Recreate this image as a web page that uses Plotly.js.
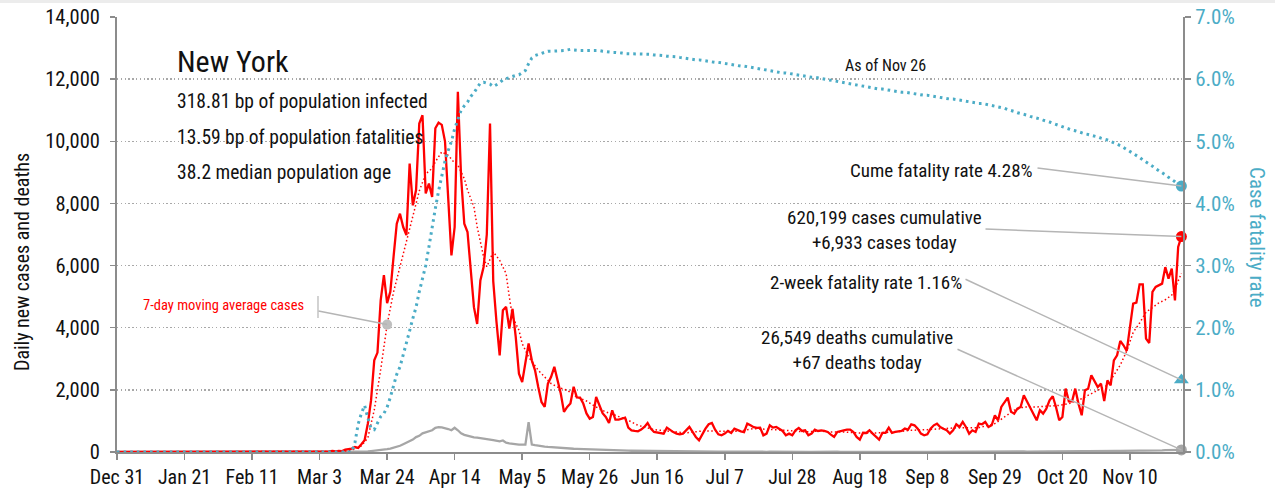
<!DOCTYPE html>
<html>
<head>
<meta charset="utf-8">
<script src="https://cdn.plot.ly/plotly-3.0.1.min.js"></script>
<style>
  html, body { margin: 0; padding: 0; background: #ffffff; }
  #chart { width: 1275px; height: 493px; }
</style>
</head>
<body>
<div id="chart"></div>
<script>
// ---------------- DATA ----------------
const stateName = "New York";
const infectedBp = "318.81";
const fatalitiesBp = "13.59";
const medianAge = "38.2";
const asOfLabel = "As of Nov 26";
const cumCases = "620,199";
const cumDeaths = "26,549";
const cumeFatalityRate = 4.28;
const twoWeekFatalityRate = 1.16;

const preStart = "2019-12-31";      // series are zero from here
const dailyStart = "2020-03-01";    // first day of the daily arrays below

// daily new cases, Mar 1 .. Nov 26
const dailyCases = [
  1, 0, 1, 9, 11, 22, 32, 16, 37, 31,
  77, 90, 110, 160, 130, 250, 380, 910, 1660, 2950,
  3200, 4880, 5690, 4790, 5160, 6280, 7350, 7670, 7240, 6980,
  9280, 7940, 8430, 10570, 10840, 8320, 8640, 8210, 10420, 10600,
  10530, 10000, 8210, 6330, 7240, 11590, 8860, 7350, 7080, 5950,
  4660, 4120, 5520, 5950, 7000, 10570, 5500, 4200, 3110, 4560,
  4670, 3970, 4610, 3700, 2520, 2250, 2840, 3490, 2950, 2630,
  2090, 1610, 1450, 2200, 2420, 2740, 2310, 1880, 1290, 1450,
  1560, 2100, 1760, 1750, 1560, 1240, 1074, 1128, 1771, 1500,
  1250, 1130, 934, 1342, 1042, 1042, 1070, 1106, 784, 698,
  680, 666, 720, 806, 934, 752, 645, 623, 600, 591,
  784, 698, 640, 591, 570, 591, 698, 806, 645, 484,
  376, 591, 752, 892, 934, 720, 570, 537, 591, 677,
  613, 752, 698, 666, 640, 913, 859, 800, 774, 784,
  537, 591, 859, 784, 806, 752, 677, 537, 591, 537,
  698, 774, 677, 698, 537, 591, 720, 677, 698, 677,
  645, 560, 484, 645, 680, 698, 720, 720, 645, 484,
  398, 620, 613, 698, 591, 500, 398, 613, 613, 784,
  613, 645, 666, 677, 752, 720, 892, 859, 752, 591,
  537, 570, 752, 859, 913, 806, 750, 698, 591, 700,
  892, 806, 967, 806, 591, 698, 645, 913, 892, 967,
  806, 859, 1181, 1020, 1450, 1610, 1750, 1300, 1235, 1396,
  1450, 1825, 1610, 1450, 1235, 1020, 1342, 1235, 1396, 1664,
  1793, 1450, 1020, 1127, 2039, 1632, 1632, 2039, 1556, 1181,
  1986, 2039, 2468, 2254, 2093, 2200, 1642, 2307, 2147, 2951,
  3112, 3573, 3434, 3252, 3970, 4775, 4807, 5397, 5397, 3649,
  3509, 5151, 5312, 5365, 5419, 5950, 5580, 5900, 4880, 6600, 6933
];

// daily new deaths, Mar 1 .. Nov 26
const dailyDeaths = [
  0, 0, 0, 0, 0, 0, 0, 0, 0, 0,
  0, 0, 0, 2, 3, 7, 10, 20, 30, 40,
  45, 60, 60, 90, 110, 140, 160, 200, 250, 300,
  330, 400, 480, 520, 600, 640, 680, 700, 780, 800,
  790, 770, 740, 700, 780, 700, 600, 550, 520, 500,
  470, 460, 450, 430, 420, 400, 380, 360, 340, 370,
  300, 280, 260, 250, 240, 235, 240, 960, 240, 220,
  200, 185, 175, 165, 155, 145, 140, 130, 120, 115,
  110, 105, 100, 95, 90, 85, 80, 78, 75, 70,
  65, 60, 58, 55, 52, 50, 48, 45, 42, 40,
  38, 35, 33, 30, 30, 28, 26, 25, 24, 22,
  22, 20, 18, 20, 17, 15, 16, 14, 15, 13,
  12, 14, 11, 12, 10, 11, 9, 12, 10, 9,
  10, 8, 11, 9, 10, 8, 9, 7, 10, 8,
  9, 7, 8, 10, 6, 8, 7, 9, 6, 8,
  7, 8, 6, 9, 7, 5, 8, 6, 7, 8,
  6, 7, 5, 8, 6, 7, 5, 6, 8, 5,
  6, 5, 7, 6, 5, 7, 6, 5, 6, 7,
  5, 6, 7, 5, 6, 8, 6, 7, 5, 6,
  7, 6, 8, 6, 9, 7, 8, 6, 9, 8,
  10, 8, 11, 9, 10, 12, 9, 11, 13, 10,
  12, 11, 14, 12, 15, 13, 16, 14, 15, 17,
  16, 18, 15, 19, 17, 20, 18, 21, 19, 22,
  20, 23, 21, 25, 22, 26, 24, 28, 25, 27,
  29, 27, 31, 28, 33, 30, 35, 32, 36, 34,
  38, 35, 40, 37, 42, 45, 41, 47, 44, 50,
  48, 53, 50, 56, 55, 60, 58, 62, 59, 64, 67
];

// cumulative case fatality rate (%), Mar 1 .. Nov 26
const caseFatalityRate = [
  0, 0, 0, 0, 0, 0, 0, 0, 0, 0,
  0, 0, 0, 0.15, 0.45, 0.62, 0.75, 0.55, 0.38, 0.36,
  0.48, 0.57, 0.62, 0.72, 0.88, 1.05, 1.25, 1.37, 1.55, 1.76,
  1.95, 2.15, 2.33, 2.58, 2.80, 3.00, 3.30, 3.63, 3.92, 4.20,
  4.45, 4.68, 4.85, 5.00, 5.20, 5.37, 5.50, 5.57, 5.63, 5.72,
  5.78, 5.86, 5.94, 5.95, 5.94, 5.92, 5.88, 5.91, 5.94, 5.99,
  6.01, 6.03, 6.04, 6.06, 6.07, 6.10, 6.14, 6.25, 6.34, 6.38,
  6.40, 6.42, 6.44, 6.45, 6.45, 6.45, 6.45, 6.46, 6.46, 6.47,
  6.48, 6.47, 6.46, 6.46, 6.46, 6.46, 6.47, 6.47, 6.46, 6.46,
  6.45, 6.44, 6.43, 6.43, 6.43, 6.43, 6.42, 6.41, 6.41, 6.41,
  6.41, 6.41, 6.41, 6.40, 6.40, 6.40, 6.39, 6.39, 6.38, 6.38,
  6.37, 6.37, 6.36, 6.36, 6.35, 6.34, 6.33, 6.33, 6.32, 6.31,
  6.31, 6.30, 6.29, 6.29, 6.28, 6.27, 6.27, 6.26, 6.25, 6.25,
  6.24, 6.23, 6.22, 6.21, 6.21, 6.20, 6.19, 6.18, 6.17, 6.16,
  6.15, 6.15, 6.14, 6.13, 6.12, 6.11, 6.10, 6.10, 6.09, 6.08,
  6.07, 6.06, 6.06, 6.05, 6.04, 6.03, 6.03, 6.02, 6.01, 6.01,
  6.00, 5.99, 5.98, 5.97, 5.96, 5.95, 5.94, 5.93, 5.92, 5.91,
  5.90, 5.89, 5.88, 5.87, 5.86, 5.85, 5.84, 5.84, 5.83, 5.82,
  5.81, 5.80, 5.80, 5.79, 5.79, 5.78, 5.77, 5.76, 5.76, 5.75,
  5.74, 5.74, 5.73, 5.72, 5.72, 5.71, 5.70, 5.69, 5.68, 5.68,
  5.67, 5.66, 5.65, 5.64, 5.64, 5.63, 5.62, 5.61, 5.61, 5.60,
  5.59, 5.58, 5.57, 5.56, 5.54, 5.53, 5.51, 5.50, 5.48, 5.46,
  5.45, 5.43, 5.42, 5.40, 5.39, 5.37, 5.36, 5.34, 5.33, 5.31,
  5.29, 5.27, 5.25, 5.23, 5.21, 5.20, 5.18, 5.17, 5.15, 5.14,
  5.12, 5.11, 5.10, 5.08, 5.07, 5.05, 5.04, 5.02, 5.00, 4.98,
  4.96, 4.93, 4.90, 4.87, 4.83, 4.80, 4.77, 4.74, 4.70, 4.67,
  4.63, 4.60, 4.56, 4.53, 4.49, 4.46, 4.42, 4.39, 4.35, 4.31, 4.28
];

// 7-day moving average of cases
const maDates = [
  "2020-03-01","2020-03-10","2020-03-14","2020-03-16","2020-03-18","2020-03-20","2020-03-22","2020-03-24","2020-03-26","2020-03-28",
  "2020-03-30","2020-04-01","2020-04-03","2020-04-05","2020-04-07","2020-04-08","2020-04-10","2020-04-12","2020-04-14","2020-04-15",
  "2020-04-17","2020-04-18","2020-04-20","2020-04-21","2020-04-23","2020-04-24","2020-04-26","2020-04-28","2020-04-30","2020-05-01",
  "2020-05-02","2020-05-04","2020-05-05","2020-05-07","2020-05-10","2020-05-12","2020-05-14","2020-05-16","2020-05-19","2020-05-22",
  "2020-05-25","2020-05-28","2020-05-30","2020-05-31","2020-06-03","2020-06-05","2020-06-07","2020-06-10","2020-06-15","2020-06-20",
  "2020-06-25","2020-06-30","2020-07-06","2020-07-11","2020-07-16","2020-07-21","2020-07-26","2020-08-01","2020-08-06","2020-08-08",
  "2020-08-13","2020-08-18","2020-08-23","2020-08-29","2020-09-03","2020-09-08","2020-09-13","2020-09-18","2020-09-24","2020-09-27",
  "2020-09-29","2020-10-02","2020-10-05","2020-10-08","2020-10-12","2020-10-16","2020-10-19","2020-10-22","2020-10-26","2020-10-30",
  "2020-11-03","2020-11-07","2020-11-09","2020-11-11","2020-11-13","2020-11-15","2020-11-17","2020-11-19","2020-11-21","2020-11-23",
  "2020-11-25","2020-11-26"
];
const maCases = [
  0, 20, 90, 200, 450, 1350, 2650, 4100, 5150, 5960,
  6700, 7500, 8400, 8950, 9130, 9340, 9660, 9550, 9300, 9230,
  8800, 8430, 7890, 7250, 6280, 5960, 6440, 6170, 5740, 4990,
  4350, 3920, 3490, 3060, 2630, 2415, 2200, 2090, 1986, 1771,
  1640, 1449, 1342, 1288, 1181, 1100, 1020, 859, 720, 666,
  613, 677, 677, 666, 752, 730, 698, 645, 677, 645,
  645, 613, 613, 645, 698, 720, 752, 784, 784, 859,
  913, 1128, 1342, 1450, 1450, 1480, 1500, 1556, 1717, 1932,
  2147, 2800, 3250, 3850, 4150, 4500, 4650, 4800, 4900, 5050,
  5500, 5750
];
const maLabelDate = "2020-03-24";

const xTickStart = "2019-12-31";
const xRangeEnd = "2020-11-26 12:00";

// ---------------- HELPERS ----------------
function dailyDates(start, n) {
  const out = [];
  const t0 = Date.parse(start + "T00:00:00Z");
  for (let i = 0; i < n; i++) {
    out.push(new Date(t0 + i * 86400000).toISOString().slice(0, 10));
  }
  return out;
}
const dates = dailyDates(dailyStart, dailyCases.length);
const lastDate = dates[dates.length - 1];
const lastCases = dailyCases[dailyCases.length - 1];
const lastDeaths = dailyDeaths[dailyDeaths.length - 1];
const lastCfr = caseFatalityRate[caseFatalityRate.length - 1];
const maAtLabel = maCases[maDates.indexOf(maLabelDate)];
const fmt = v => v.toLocaleString("en-US");

// ---------------- STYLE / GEOMETRY ----------------
const FONT = "'Liberation Sans Narrow', 'Roboto Condensed', 'Arial Narrow', 'Liberation Sans', sans-serif";
const RED = "#ff0000";
const BLUE = "#4bacc6";
const GRAY = "#a6a6a6";
const AXIS = "#8c8c8c";
const LEADER = "#b5b5b5";

const W = 1275, H = 493, ML = 117, MR = 92, MT = 17, MB = 41;
const PW = W - ML - MR, PH = H - MT - MB;
const px2x = px => (px - ML) / PW;
const py2y = py => (H - MB - py) / PH;
const Y_MAX = 14000, Y2_MAX = 7;

// pixel position of a data point (used only to aim leader lines)
const T0 = Date.parse(xTickStart + "T00:00:00Z");
const T1 = Date.parse(xRangeEnd.replace(" ", "T") + ":00Z");
const xPix = d => ML + PW * (Date.parse(d + "T00:00:00Z") - T0) / (T1 - T0);
const yPix = v => MT + PH * (1 - v / Y_MAX);
const y2Pix = v => MT + PH * (1 - v / Y2_MAX);

const traces = [
  {
    x: [preStart].concat(dates), y: [0].concat(dailyDeaths),
    type: "scatter", mode: "lines",
    line: { color: GRAY, width: 2.3 }, hoverinfo: "skip"
  },
  {
    x: [preStart].concat(dates), y: [0].concat(dailyCases),
    type: "scatter", mode: "lines",
    line: { color: RED, width: 2.3 }, hoverinfo: "skip"
  },
  {
    x: [preStart].concat(maDates), y: [0].concat(maCases),
    type: "scatter", mode: "lines",
    line: { color: RED, width: 1.5, dash: "1.5px,2.5px" }, hoverinfo: "skip"
  },
  {
    x: [preStart].concat(dates), y: [0].concat(caseFatalityRate),
    type: "scatter", mode: "lines", yaxis: "y2",
    line: { color: BLUE, width: 3, dash: "2.6px,4px" }, hoverinfo: "skip"
  },
  // end-point markers
  {
    x: [maLabelDate], y: [maAtLabel], type: "scatter", mode: "markers",
    marker: { color: "#bfbfbf", size: 10 }, cliponaxis: false, hoverinfo: "skip"
  },
  {
    x: [lastDate], y: [lastDeaths], type: "scatter", mode: "markers",
    marker: { color: GRAY, size: 11 }, cliponaxis: false, hoverinfo: "skip"
  },
  {
    x: [lastDate], y: [lastCases], type: "scatter", mode: "markers",
    marker: { color: RED, size: 11 }, cliponaxis: false, hoverinfo: "skip"
  },
  {
    x: [lastDate], y: [lastCfr], yaxis: "y2", type: "scatter", mode: "markers",
    marker: { color: BLUE, size: 11 }, cliponaxis: false, hoverinfo: "skip"
  },
  {
    x: [lastDate], y: [twoWeekFatalityRate], yaxis: "y2", type: "scatter", mode: "markers",
    marker: { color: BLUE, size: 13, symbol: "triangle-up" }, cliponaxis: false, hoverinfo: "skip"
  }
];

const txt = (text, px, py, size, color, xanchor) => ({
  text: text, xref: "paper", yref: "paper", x: px2x(px), y: py2y(py),
  xanchor: xanchor || "left", yanchor: "middle", showarrow: false, align: "center",
  font: { family: FONT, size: size, color: color || "#111111" }
});

// leader line from a pixel start point to a data point
const leader = (xd, yd, yref, startPx, startPy) => {
  const ex = xPix(xd), ey = (yref === "y2" ? y2Pix(yd) : yPix(yd));
  return {
    x: xd, y: yd, xref: "x", yref: yref,
    ax: startPx - ex, ay: startPy - ey, axref: "pixel", ayref: "pixel",
    text: " ", showarrow: true, arrowhead: 0, arrowwidth: 1.5, arrowcolor: LEADER,
    standoff: 0, startstandoff: 0, borderpad: 0,
    font: { family: FONT, size: 1, color: "rgba(0,0,0,0)" }
  };
};

const annotations = [
  txt(stateName, 175, 61, 30),
  txt(infectedBp + " bp of population infected", 175, 102, 19.5),
  txt(fatalitiesBp + " bp of population fatalities", 175, 137, 19.5),
  txt(medianAge + " median population age", 175, 172, 19.5),
  txt(asOfLabel, 885, 65, 16, "#111111", "center"),
  txt("7-day moving average cases", 223, 305, 14.5, RED, "center"),
  txt("Cume fatality rate " + cumeFatalityRate.toFixed(2) + "%", 941, 170, 19, "#111111", "center"),
  txt(cumCases + " cases cumulative<br>+" + fmt(lastCases) + " cases today", 884, 230, 19, "#111111", "center"),
  txt("2-week fatality rate " + twoWeekFatalityRate.toFixed(2) + "%", 866, 282, 19, "#111111", "center"),
  txt(cumDeaths + " deaths cumulative<br>+" + fmt(lastDeaths) + " deaths today", 857, 350, 19, "#111111", "center"),
  leader(maLabelDate, maAtLabel, "y", 318, 311),
  leader(lastDate, lastCfr, "y2", 1037, 168),
  leader(lastDate, lastCases, "y", 985, 229),
  leader(lastDate, twoWeekFatalityRate, "y2", 965, 279),
  leader(lastDate, lastDeaths, "y", 957, 349),
  // axis titles
  {
    text: "Daily new cases and deaths", xref: "paper", yref: "paper",
    x: px2x(22), y: py2y(262), textangle: -90, showarrow: false,
    xanchor: "center", yanchor: "middle",
    font: { family: FONT, size: 20, color: "#111111" }
  },
  {
    text: "Case fatality rate", xref: "paper", yref: "paper",
    x: px2x(1257), y: py2y(237), textangle: 90, showarrow: false,
    xanchor: "center", yanchor: "middle",
    font: { family: FONT, size: 21, color: BLUE }
  }
];

const shapes = [
  { type: "rect", xref: "paper", yref: "paper", x0: px2x(0), x1: px2x(W), y0: py2y(3), y1: py2y(-2),
    fillcolor: "#ececec", line: { width: 0 }, layer: "below" },
  { type: "line", xref: "paper", yref: "paper", x0: px2x(318), x1: px2x(318), y0: py2y(318), y1: py2y(296),
    line: { color: LEADER, width: 1.2 } }
];

const layout = {
  width: W, height: H,
  margin: { l: ML, r: MR, t: MT, b: MB, pad: 0 },
  paper_bgcolor: "#ffffff", plot_bgcolor: "#ffffff",
  showlegend: false,
  font: { family: FONT, color: "#111111" },
  xaxis: {
    type: "date", range: [xTickStart, xRangeEnd],
    tick0: xTickStart, dtick: 21 * 86400000, tickformat: "%b %-d",
    ticks: "outside", ticklen: 6, tickwidth: 1.5, tickcolor: AXIS,
    showline: true, linecolor: AXIS, linewidth: 2, showgrid: false, zeroline: false,
    tickfont: { family: FONT, size: 20, color: "#111111" }, fixedrange: true
  },
  yaxis: {
    range: [0, Y_MAX], dtick: 2000, tickformat: ",d",
    ticks: "outside", ticklen: 5, tickwidth: 1.5, tickcolor: AXIS,
    ticklabelstandoff: 6,
    showline: true, linecolor: AXIS, linewidth: 2,
    showgrid: true, gridcolor: "#a8a8a8", gridwidth: 1.4, griddash: "1.4px,2.4px",
    zeroline: false,
    tickfont: { family: FONT, size: 20.5, color: "#111111" }, fixedrange: true
  },
  yaxis2: {
    range: [0, Y2_MAX], dtick: 1, tickformat: ".1f", ticksuffix: "%",
    overlaying: "y", side: "right",
    ticks: "outside", ticklen: 6, tickwidth: 1.5, tickcolor: AXIS,
    showline: true, linecolor: AXIS, linewidth: 2, showgrid: false, zeroline: false,
    tickfont: { family: FONT, size: 21, color: BLUE }, fixedrange: true
  },
  annotations: annotations,
  shapes: shapes
};

Plotly.newPlot("chart", traces, layout, { staticPlot: true, displayModeBar: false });
</script>
</body>
</html>
